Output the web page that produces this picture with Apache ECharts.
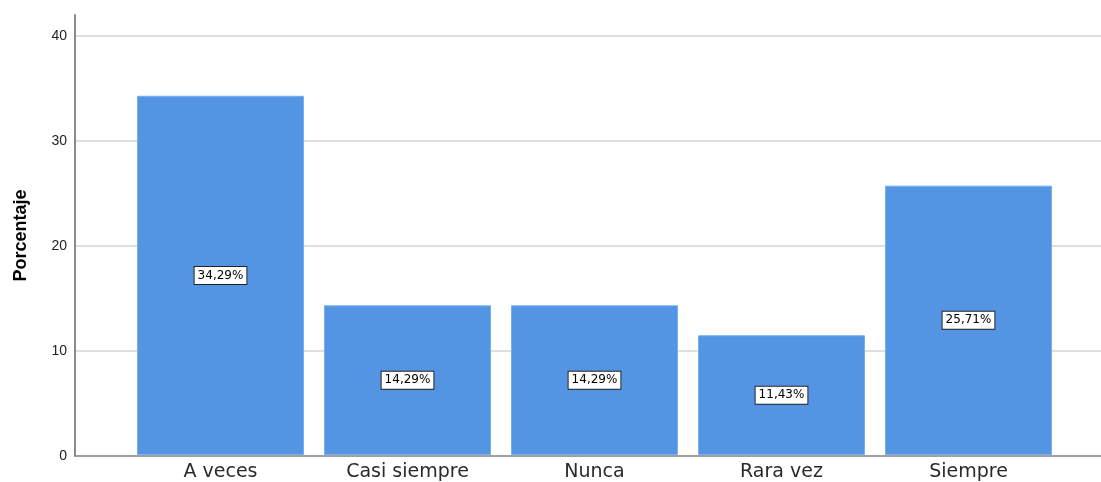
<!DOCTYPE html>
<html lang="es">
<head>
    <meta charset="UTF-8">
    <title>Porcentaje</title>
    <script src="https://cdn.jsdelivr.net/npm/echarts@6/dist/echarts.min.js"></script>
    <style>
        html, body { margin: 0; padding: 0; background: #fff; }
        #chart { width: 1101px; height: 482px; }
    </style>
</head>
<body>
<div id="chart"></div>
<script type="text/javascript">
var categories = ['A veces', 'Casi siempre', 'Nunca', 'Rara vez', 'Siempre'];
var percentages = [34.29, 14.29, 14.29, 11.43, 25.71];
var yTicks = [0, 10, 20, 30, 40];

var font = 'Liberation Sans, Arial, sans-serif';
var wideFont = 'DejaVu Sans, Verdana, sans-serif';
var chart = echarts.init(document.getElementById('chart'));

var option = {
    backgroundColor: '#ffffff',
    animation: false,
    grid: [
        // full plot frame: y axis + grid lines
        { left: 75, right: 0, top: 15, bottom: 26 },
        // inner band where the bars sit
        { left: 127, right: 39, top: 15, bottom: 26 }
    ],
    xAxis: [{
        gridIndex: 0,
        type: 'category',
        data: [''],
        axisLine: { show: true, lineStyle: { color: '#8a8a8a', width: 1.5 } },
        axisTick: { show: false },
        axisLabel: { show: false }
    }, {
        gridIndex: 1,
        type: 'category',
        data: categories,
        axisLine: { show: false },
        axisTick: { show: false },
        axisLabel: {
            color: '#2a2a2a',
            fontFamily: wideFont,
            fontSize: 19,
            margin: 8
        }
    }],
    yAxis: [{
        gridIndex: 0,
        type: 'value',
        min: yTicks[0],
        max: 42,
        interval: 10,
        name: 'Porcentaje',
        nameLocation: 'middle',
        nameGap: 45,
        nameTextStyle: {
            color: '#000000',
            fontFamily: font,
            fontSize: 18,
            fontWeight: 'bold'
        },
        axisLine: { show: true, lineStyle: { color: '#8a8a8a', width: 2 } },
        axisTick: { show: false },
        axisLabel: {
            color: '#222222',
            fontFamily: font,
            fontSize: 14,
            margin: 8,
            showMaxLabel: false
        },
        splitLine: { show: true, showMaxLine: false, lineStyle: { color: '#d4d4d4', width: 1.5 } }
    }, {
        gridIndex: 1,
        type: 'value',
        min: yTicks[0],
        max: 42,
        show: false,
        splitLine: { show: false }
    }],
    series: [{
        type: 'bar',
        xAxisIndex: 1,
        yAxisIndex: 1,
        data: percentages,
        barCategoryGap: '10.7%',
        itemStyle: {
            color: '#5495e3',
            borderColor: '#78aef0',
            borderWidth: 1
        },
        label: {
            show: true,
            position: 'inside',
            formatter: function (p) {
                return p.value.toFixed(2).replace('.', ',') + '%';
            },
            color: '#000000',
            fontFamily: wideFont,
            fontSize: 12,
            lineHeight: 14,
            backgroundColor: '#ffffff',
            borderColor: '#222222',
            borderWidth: 1,
            padding: [2, 3, 1, 3]
        }
    }]
};

chart.setOption(option);
</script>
</body>
</html>
